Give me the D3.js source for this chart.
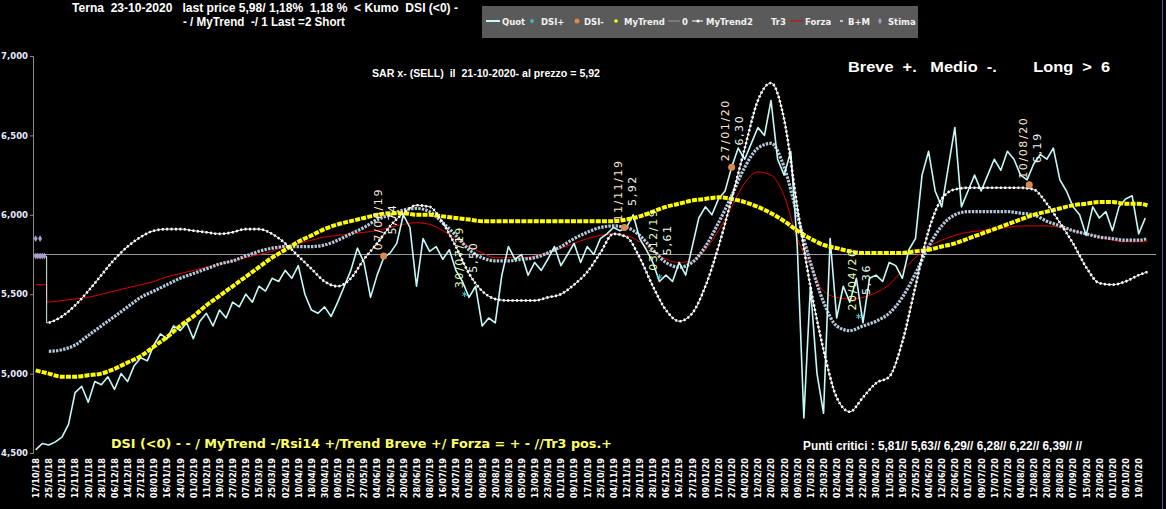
<!DOCTYPE html>
<html>
<head>
<meta charset="utf-8">
<script src="https://cdn.jsdelivr.net/npm/d3@7"></script>
<style>
  body { margin: 0; background: #000; }
  svg { display: block; }
  text { white-space: pre; }
</style>
</head>
<body>
<div id="chart"></div>
<script>
// x categories: one label every 6 sessions
const dateLabels = [
  "17/10/18","25/10/18","02/11/18","12/11/18","20/11/18","28/11/18","06/12/18","14/12/18","27/12/18","08/01/19",
  "16/01/19","24/01/19","01/02/19","11/02/19","19/02/19","27/02/19","07/03/19","15/03/19","25/03/19","02/04/19",
  "10/04/19","18/04/19","30/04/19","09/05/19","17/05/19","27/05/19","04/06/19","12/06/19","20/06/19","28/06/19",
  "08/07/19","16/07/19","24/07/19","01/08/19","09/08/19","20/08/19","28/08/19","05/09/19","13/09/19","23/09/19",
  "01/10/19","09/10/19","17/10/19","25/10/19","04/11/19","12/11/19","20/11/19","28/11/19","06/12/19","16/12/19",
  "27/12/19","09/01/20","17/01/20","27/01/20","04/02/20","12/02/20","20/02/20","28/02/20","09/03/20","17/03/20",
  "25/03/20","02/04/20","14/04/20","22/04/20","30/04/20","11/05/20","19/05/20","27/05/20","04/06/20","12/06/20",
  "22/06/20","01/07/20","09/07/20","17/07/20","27/07/20","04/08/20","12/08/20","20/08/20","28/08/20","07/09/20",
  "15/09/20","23/09/20","01/10/20","09/10/20","19/10/20"
];
const yTicks = [4.5, 5, 5.5, 6, 6.5, 7];
const zeroLevel = 5.75;

// Quot, one value every 3 sessions
const quote = [
  4.52,4.56,4.55,4.57,4.60,4.68,4.88,4.92,4.82,4.95,
  4.93,4.98,4.90,5.00,4.95,5.05,5.10,5.08,5.18,5.25,
  5.22,5.30,5.27,5.32,5.22,5.33,5.38,5.30,5.40,5.35,
  5.45,5.42,5.50,5.45,5.55,5.52,5.60,5.58,5.65,5.60,
  5.68,5.50,5.40,5.38,5.42,5.36,5.45,5.55,5.65,5.79,
  5.70,5.48,5.62,5.73,5.76,5.82,6.00,5.92,5.55,5.85,
  5.77,5.80,5.72,5.78,5.65,5.58,5.48,5.55,5.30,5.35,
  5.32,5.62,5.80,5.72,5.75,5.62,5.70,5.65,5.72,5.80,
  5.68,5.75,5.82,5.70,5.80,5.75,5.85,5.88,5.92,5.90,
  5.92,6.00,5.85,5.78,5.70,5.58,5.62,5.58,5.70,5.62,
  5.80,5.98,6.05,6.00,6.10,6.15,6.30,6.42,6.35,6.45,
  6.55,6.50,6.72,6.35,6.25,6.40,5.80,4.72,5.55,5.00,
  4.75,5.85,5.35,5.55,5.45,5.60,5.32,5.60,5.62,5.58,
  5.70,5.68,5.60,5.78,5.85,6.25,6.40,6.15,6.05,6.30,
  6.55,6.05,6.15,6.25,6.15,6.25,6.35,6.28,6.40,6.35,
  6.25,6.22,6.32,6.38,6.35,6.42,6.22,6.15,6.05,6.00,
  5.87,6.05,5.98,6.02,5.90,6.05,6.10,6.12,5.88,5.98
];

// smooth series, one value per label + last session (23/10/20)
const myTrend = [
  5.02,5.00,4.98,4.98,4.99,5.00,5.03,5.07,5.11,5.17,
  5.23,5.30,5.36,5.43,5.49,5.55,5.61,5.67,5.73,5.78,
  5.83,5.87,5.91,5.94,5.96,5.98,6.00,6.01,6.01,6.00,
  6.00,5.99,5.98,5.97,5.96,5.96,5.96,5.96,5.96,5.96,
  5.96,5.96,5.96,5.96,5.96,5.97,5.99,6.02,6.05,6.07,
  6.09,6.10,6.11,6.10,6.08,6.05,6.01,5.96,5.90,5.85,
  5.81,5.79,5.77,5.76,5.76,5.76,5.76,5.77,5.78,5.80,
  5.82,5.85,5.88,5.91,5.94,5.97,6.00,6.02,6.04,6.06,
  6.07,6.08,6.08,6.07,6.07,6.06
];
const myTrend2 = [
  null,5.32,5.36,5.43,5.52,5.62,5.72,5.80,5.86,5.90,
  5.91,5.91,5.90,5.89,5.88,5.89,5.91,5.91,5.88,5.82,
  5.74,5.66,5.58,5.55,5.60,5.72,5.82,5.93,6.01,6.06,
  6.05,5.95,5.80,5.63,5.52,5.47,5.46,5.46,5.46,5.48,
  5.50,5.56,5.64,5.76,5.88,5.86,5.73,5.55,5.40,5.33,
  5.38,5.55,5.80,6.10,6.42,6.72,6.83,6.60,6.05,5.55,
  5.15,4.85,4.76,4.85,4.94,4.98,5.20,5.55,5.90,6.10,
  6.16,6.17,6.17,6.17,6.17,6.17,6.16,6.07,5.95,5.82,
  5.67,5.57,5.56,5.58,5.62,5.64
];
const bPiuM = [
  null,5.14,5.15,5.18,5.24,5.30,5.36,5.42,5.48,5.52,
  5.56,5.60,5.63,5.66,5.69,5.71,5.74,5.77,5.79,5.80,
  5.80,5.80,5.81,5.84,5.88,5.92,5.97,6.00,6.03,6.04,
  6.02,5.95,5.87,5.78,5.73,5.71,5.71,5.72,5.73,5.76,
  5.80,5.85,5.89,5.92,5.93,5.92,5.87,5.78,5.70,5.67,
  5.70,5.80,5.95,6.12,6.30,6.42,6.45,6.30,6.00,5.70,
  5.45,5.30,5.27,5.30,5.33,5.38,5.48,5.63,5.80,5.93,
  6.00,6.02,6.02,6.02,6.02,6.01,6.00,5.96,5.93,5.90,
  5.88,5.86,5.85,5.84,5.84,5.85
];
const forza = [
  null,5.45,5.46,5.47,5.48,5.50,5.52,5.54,5.56,5.58,
  5.61,5.63,5.65,5.67,5.69,5.71,5.73,5.75,5.77,5.80,
  5.82,5.84,5.86,5.87,5.88,5.89,5.90,5.92,5.94,5.95,
  5.94,5.90,5.85,5.80,5.76,5.73,5.73,5.73,5.74,5.76,
  5.79,5.82,5.85,5.87,5.88,5.87,5.83,5.77,5.72,5.70,
  5.71,5.78,5.90,6.05,6.20,6.27,6.25,6.12,5.85,5.68,
  5.52,5.48,5.47,5.48,5.51,5.56,5.65,5.73,5.80,5.84,
  5.87,5.89,5.90,5.91,5.92,5.93,5.93,5.93,5.92,5.90,
  5.88,5.86,5.84,5.83,5.83,5.83
];
// first values before the series settle
const forzaStart = 5.56;
const myTrend2Start = 5.74;

// signals: [session, price, date]
const dsiMinus = [[159, 5.74, "07/06/19"], [269, 5.92, "11/11/19"], [318, 6.30, "27/01/20"], [454, 6.19, "10/08/20"]];
const dsiPlus = [[196, 5.50, "30/07/19"], [285, 5.61, "03/12/19"], [376, 5.36, "20/04/20"]];
const stimaDays = [0, 1, 2, 3, 4, 0, 2];
const stimaVals = [5.74, 5.74, 5.74, 5.74, 5.74, 5.85, 5.85];

const legendNames = ["Quot", "DSI+", "DSI-", "MyTrend", "0", "MyTrend2", "Tr3", "Forza", "B+M", "Stima"];

const titleLine1 = "Terna  23-10-2020   last price 5,98/ 1,18%  1,18 %  < Kumo  DSI (<0) -";
const titleLine2 = "- / MyTrend  -/ 1 Last =2 Short";
const sarText = "SAR x- (SELL)  il  21-10-2020- al prezzo = 5,92";
const trendText = "Breve  +.   Medio  -.        Long  >  6";
const bottomText = "DSI (<0) - - / MyTrend -/Rsi14 +/Trend Breve +/ Forza = + - //Tr3 pos.+";
const puntiText = "Punti critici : 5,81// 5,63// 6,29// 6,28// 6,22// 6,39// //";

const width = 1166, height = 509;
const lastDay = 508;

var svg = d3.select("#chart").append("svg")
    .attr("width", width)
    .attr("height", height)
    .style("background", "#000");

var x = d3.scaleLinear().domain([0, 504]).range([35.7, 1138.7]);
var y = d3.scaleLinear().domain([4.5, 7]).range([453, 56]);

var it = d3.formatLocale({decimal: ",", thousands: ".", grouping: [3], currency: ["", ""]});
var fmt3 = it.format(".3f"), fmt2 = it.format(".2f");

function dayOf(i) { return i < dateLabels.length ? 6 * i : lastDay; }

// y axis
var yAxisG = svg.append("g")
    .attr("transform", "translate(33,0)")
    .call(d3.axisLeft(y).tickValues(yTicks).tickSize(3).tickPadding(2).tickFormat(fmt3));
yAxisG.select(".domain").attr("stroke", "#8a8a8a");
yAxisG.selectAll(".tick line").attr("stroke", "#8a8a8a");
yAxisG.selectAll("text")
    .attr("fill", "#e6ecff")
    .attr("font-family", "DejaVu Sans, Verdana, sans-serif")
    .attr("font-weight", "bold")
    .attr("font-size", 8.5);

// x axis, vertical labels
var xAxisG = svg.append("g")
    .attr("transform", "translate(0,458)")
    .call(d3.axisBottom(x).tickValues(dateLabels.map(function(d, i) { return 6 * i; }))
        .tickSize(0).tickFormat(function(d) { return dateLabels[d / 6]; }));
xAxisG.select(".domain").remove();
xAxisG.selectAll("text")
    .attr("transform", "rotate(-90)")
    .attr("text-anchor", "end")
    .attr("x", 0).attr("y", 0).attr("dy", "0.35em")
    .attr("fill", "#ffffff")
    .attr("font-family", "DejaVu Sans, Verdana, sans-serif")
    .attr("font-weight", "bold")
    .attr("font-size", 8.2);

// zero line
svg.append("line")
    .attr("x1", 33).attr("x2", 1156)
    .attr("y1", y(zeroLevel)).attr("y2", y(zeroLevel))
    .attr("stroke", "#9a9a9a").attr("stroke-width", 1);

var smooth = d3.line()
    .defined(function(d) { return d[1] != null; })
    .x(function(d) { return x(d[0]); })
    .y(function(d) { return y(d[1]); })
    .curve(d3.curveMonotoneX);
var straight = d3.line()
    .x(function(d) { return x(d[0]); })
    .y(function(d) { return y(d[1]); });

function pts(arr) { return arr.map(function(v, i) { return [dayOf(i), v]; }); }

// Forza
svg.append("path")
    .attr("d", straight([[0, forzaStart], [5, forzaStart], [5, forza[1]], [6, forza[1]]]))
    .attr("fill", "none").attr("stroke", "#e00000").attr("stroke-width", 1);
svg.append("path")
    .attr("d", smooth(pts(forza)))
    .attr("fill", "none").attr("stroke", "#e00000").attr("stroke-width", 1);

// B+M
svg.append("path")
    .attr("d", smooth(pts(bPiuM)))
    .attr("fill", "none").attr("stroke", "#b4c8dc").attr("stroke-width", 3.2)
    .attr("stroke-dasharray", "2.4,1.2");

// Quot
svg.append("path")
    .attr("d", straight(quote.map(function(v, k) { return [3 * k, v]; })))
    .attr("fill", "none").attr("stroke", "#c4fafa").attr("stroke-width", 1.6)
    .attr("stroke-linejoin", "round");

// MyTrend
svg.append("path")
    .attr("d", smooth(pts(myTrend)))
    .attr("fill", "none").attr("stroke", "#ffff00").attr("stroke-width", 4)
    .attr("stroke-dasharray", "5,1.2");

// MyTrend2
svg.append("path")
    .attr("d", straight([[5, myTrend2Start], [5, myTrend2[1]], [6, myTrend2[1]]]))
    .attr("fill", "none").attr("stroke", "#d8f0f0").attr("stroke-width", 1);
svg.append("path")
    .attr("d", smooth(pts(myTrend2)))
    .attr("fill", "none").attr("stroke", "#ffffff").attr("stroke-width", 1);
svg.append("path")
    .attr("d", smooth(pts(myTrend2)))
    .attr("fill", "none").attr("stroke", "#ffffff").attr("stroke-width", 2.6)
    .attr("stroke-dasharray", "2,2.4");

// Stima
svg.append("g").selectAll("path")
    .data(stimaDays.map(function(d, i) { return [d, stimaVals[i]]; }))
    .enter().append("path")
    .attr("transform", function(d) { return "translate(" + x(d[0]) + "," + y(d[1]) + ")"; })
    .attr("d", d3.symbol().type(d3.symbolDiamond).size(14))
    .attr("fill", "#a89ccc");

// signal markers
svg.append("g").selectAll("circle")
    .data(dsiMinus).enter().append("circle")
    .attr("cx", function(d) { return x(d[0]); })
    .attr("cy", function(d) { return y(d[1]); })
    .attr("r", 3.5)
    .attr("fill", "#d98c4a");
svg.append("g").selectAll("path")
    .data(dsiPlus).enter().append("path")
    .attr("transform", function(d) { return "translate(" + x(d[0]) + "," + y(d[1]) + ")"; })
    .attr("d", d3.symbol().type(d3.symbolAsterisk).size(20))
    .attr("fill", "none").attr("stroke", "#3cc8d8").attr("stroke-width", 1);

function annotate(data, dateColor, valColor) {
    var g = svg.append("g")
        .attr("font-family", "DejaVu Sans, Verdana, sans-serif")
        .attr("font-size", 11)
        .attr("letter-spacing", 1.6)
        .attr("text-anchor", "middle");
    g.selectAll("text.date").data(data).enter().append("text")
        .attr("class", "date")
        .attr("transform", function(d) { return "translate(" + (x(d[0]) - 6) + "," + (y(d[1]) - 37) + ") rotate(-90)"; })
        .attr("dy", "0.35em")
        .attr("fill", dateColor)
        .text(function(d) { return d[2]; });
    g.selectAll("text.val").data(data).enter().append("text")
        .attr("class", "val")
        .attr("transform", function(d) { return "translate(" + (x(d[0]) + 8) + "," + (y(d[1]) - 37) + ") rotate(-90)"; })
        .attr("dy", "0.35em")
        .attr("fill", valColor)
        .text(function(d) { return fmt2(d[1]); });
}
annotate(dsiMinus, "#ffe6cc", "#f4f4f4");
annotate(dsiPlus, "#e4ffb0", "#e8fff0");

// titles and notes
function label(txt, px, py, size, color, len) {
    var t = svg.append("text")
        .attr("x", px).attr("y", py)
        .attr("font-family", "Liberation Sans, Arial, sans-serif")
        .attr("font-weight", "bold")
        .attr("font-size", size)
        .attr("fill", color)
        .text(txt);
    if (len) t.attr("textLength", len).attr("lengthAdjust", "spacingAndGlyphs");
    return t;
}
label(titleLine1, 72, 12, 12, "#ffffff", 386);
label(titleLine2, 183, 26, 12, "#ffffff", 162);
label(sarText, 372, 77, 11, "#ffffff", 228);
label(trendText, 848, 72, 14, "#ffffff", 262);
label(puntiText, 803, 450, 12, "#ffffff", 279);
svg.append("text")
    .attr("x", 111).attr("y", 448)
    .attr("font-family", "DejaVu Sans, Verdana, sans-serif")
    .attr("font-weight", "bold")
    .attr("font-size", 12)
    .attr("fill", "#ffff66")
    .attr("textLength", 501).attr("lengthAdjust", "spacingAndGlyphs")
    .text(bottomText);

// legend
var lg = svg.append("g");
lg.append("rect").attr("x", 482).attr("y", 6).attr("width", 436).attr("height", 32).attr("fill", "#5a5a5a");
var legendTextX = [502, 541, 584, 624, 682, 706, 771, 805, 848, 888];
lg.selectAll("text").data(legendNames).enter().append("text")
    .attr("x", function(d, i) { return legendTextX[i]; })
    .attr("y", 24.5)
    .attr("font-family", "DejaVu Sans, Verdana, sans-serif")
    .attr("font-weight", "bold")
    .attr("font-size", 8.5)
    .attr("fill", "#f2f2f2")
    .text(function(d) { return d; });
lg.append("line").attr("x1", 486).attr("x2", 500).attr("y1", 21).attr("y2", 21).attr("stroke", "#c4fafa").attr("stroke-width", 2);
lg.append("path").attr("transform", "translate(532,21)").attr("d", d3.symbol().type(d3.symbolAsterisk).size(14)).attr("stroke", "#3cc8d8").attr("fill", "none");
lg.append("circle").attr("cx", 577).attr("cy", 21).attr("r", 2.5).attr("fill", "#d98c4a");
lg.append("circle").attr("cx", 616).attr("cy", 21).attr("r", 1.8).attr("fill", "#ffff00");
lg.append("line").attr("x1", 668).attr("x2", 680).attr("y1", 21).attr("y2", 21).attr("stroke", "#9a9a9a");
lg.append("line").attr("x1", 692).attr("x2", 703).attr("y1", 21).attr("y2", 21).attr("stroke", "#ffffff");
lg.append("circle").attr("cx", 698).attr("cy", 21).attr("r", 1.5).attr("fill", "#ffffff");
lg.append("line").attr("x1", 790).attr("x2", 803).attr("y1", 21).attr("y2", 21).attr("stroke", "#e00000");
lg.append("rect").attr("x", 840).attr("y", 20).attr("width", 3).attr("height", 2).attr("fill", "#b4c8dc");
lg.append("path").attr("transform", "translate(880,21)").attr("d", d3.symbol().type(d3.symbolDiamond).size(12)).attr("fill", "#a89ccc");

// right border
svg.append("line").attr("x1", 1162.5).attr("x2", 1162.5).attr("y1", 0).attr("y2", height)
    .attr("stroke", "#4a5ab0").attr("stroke-width", 1);
</script>
</body>
</html>
